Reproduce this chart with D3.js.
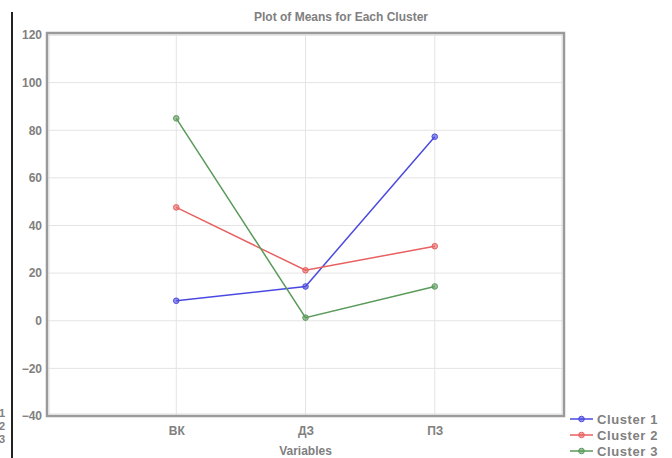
<!DOCTYPE html>
<html>
<head>
<meta charset="utf-8">
<script src="https://cdn.jsdelivr.net/npm/d3@7"></script>
<style>
body { margin: 0; background: #fff; }
text { font-family: "Liberation Sans", Arial, sans-serif; font-weight: bold; fill: #808080; }
</style>
</head>
<body>
<div id="vis"></div>
<script>
var variables = ['ВК', 'ДЗ', 'ПЗ'];
var clusterNames = ['Cluster  1', 'Cluster  2', 'Cluster  3'];
var clusterColors = ['#4a4ae0', '#e86060', '#5a9a5a'];
var cluster1 = [8.4, 14.4, 77.3];
var cluster2 = [47.6, 21.2, 31.3];
var cluster3 = [85, 1.3, 14.4];
var yTicks = [-40, -20, 0, 20, 40, 60, 80, 100, 120];

var series = [cluster1, cluster2, cluster3];

var width = 672, height = 458;
var margin = {left: 47, top: 34, right: 108, bottom: 42};

var svg = d3.select('#vis')
    .append('svg')
        .attr('width', width)
        .attr('height', height);

var x_scale = d3.scaleLinear()
    .domain([0, variables.length + 1])
    .range([margin.left, width - margin.right]);

var y_scale = d3.scaleLinear()
    .domain([-40, 120])
    .range([height - margin.bottom, margin.top + 1]);

// grid
svg.append('g')
    .selectAll('line.hg')
    .data(yTicks)
    .enter().append('line')
        .attr('x1', x_scale(0)).attr('x2', x_scale(variables.length + 1))
        .attr('y1', function(d){ return y_scale(d); })
        .attr('y2', function(d){ return y_scale(d); })
        .attr('stroke', '#e4e4e4');

svg.append('g')
    .selectAll('line.vg')
    .data(variables)
    .enter().append('line')
        .attr('x1', function(d, i){ return x_scale(i + 1); })
        .attr('x2', function(d, i){ return x_scale(i + 1); })
        .attr('y1', y_scale(120)).attr('y2', y_scale(-40))
        .attr('stroke', '#e4e4e4');

// frame
svg.append('rect')
    .attr('x', x_scale(0)).attr('y', margin.top - 1)
    .attr('width', x_scale(variables.length + 1) - x_scale(0))
    .attr('height', y_scale(-40) - margin.top + 1)
    .attr('fill', 'none')
    .attr('stroke', '#9a9a9a')
    .attr('stroke-width', 2.5);
svg.append('rect')
    .attr('x', x_scale(0) + 2).attr('y', margin.top + 1)
    .attr('width', x_scale(variables.length + 1) - x_scale(0) - 4)
    .attr('height', y_scale(-40) - margin.top - 3)
    .attr('fill', 'none')
    .attr('stroke', '#dcdcdc')
    .attr('stroke-width', 1);

// axes
var yAxis = d3.axisLeft(y_scale).tickValues(yTicks).tickSize(0).tickPadding(5);
var yg = svg.append('g')
    .attr('transform', 'translate(' + x_scale(0) + ',0)')
    .call(yAxis);
yg.select('.domain').remove();
yg.selectAll('text').style('font-size', '12px').style('font-family', '"Liberation Sans", Arial, sans-serif')
    .attr('fill', '#808080');

var xAxis = d3.axisBottom(x_scale)
    .tickValues(d3.range(1, variables.length + 1))
    .tickFormat(function(d){ return variables[d - 1]; })
    .tickSize(0).tickPadding(10);
var xg = svg.append('g')
    .attr('transform', 'translate(0,' + y_scale(-40) + ')')
    .call(xAxis);
xg.select('.domain').remove();
xg.selectAll('text').style('font-size', '12px').style('font-family', '"Liberation Sans", Arial, sans-serif')
    .attr('fill', '#808080');

// titles
svg.append('text')
    .attr('x', 341).attr('y', 21)
    .attr('text-anchor', 'middle')
    .style('font-size', '12px')
    .text('Plot of Means for Each Cluster');

svg.append('text')
    .attr('x', x_scale(2)).attr('y', 455)
    .attr('text-anchor', 'middle')
    .style('font-size', '12px')
    .text('Variables');

// lines
var line = d3.line()
    .x(function(d, i){ return x_scale(i + 1); })
    .y(function(d){ return y_scale(d); });

series.forEach(function(s, k) {
    svg.append('path')
        .datum(s)
        .attr('d', line)
        .attr('fill', 'none')
        .attr('stroke', clusterColors[k])
        .attr('stroke-width', 1.5);
    svg.selectAll('.pt' + k)
        .data(s)
        .enter().append('circle')
            .attr('class', 'pt' + k)
            .attr('cx', function(d, i){ return x_scale(i + 1); })
            .attr('cy', function(d){ return y_scale(d); })
            .attr('r', 2.8)
            .attr('fill', clusterColors[k])
            .attr('fill-opacity', 0.6)
            .attr('stroke', clusterColors[k]);
});

// legend
var legend = svg.append('g');
clusterNames.forEach(function(name, k) {
    var ly = 419 + k * 16;
    legend.append('line')
        .attr('x1', 570).attr('x2', 593)
        .attr('y1', ly).attr('y2', ly)
        .attr('stroke', clusterColors[k]).attr('stroke-width', 1.5);
    legend.append('circle')
        .attr('cx', 581.5).attr('cy', ly).attr('r', 2.8)
        .attr('fill', clusterColors[k]).attr('fill-opacity', 0.6)
        .attr('stroke', clusterColors[k]);
    legend.append('text')
        .attr('x', 597).attr('y', ly + 4.5)
        .style('font-size', '13px')
        .style('letter-spacing', '0.6px')
        .text(name);
    // clipped remnant on left edge
    legend.append('text')
        .attr('x', 5).attr('y', 417 + k * 13)
        .attr('text-anchor', 'end')
        .style('font-size', '11px')
        .text(String(k + 1));
});

// black border line at left
svg.append('line')
    .attr('x1', 12).attr('x2', 12)
    .attr('y1', 12).attr('y2', height)
    .attr('stroke', '#222').attr('stroke-width', 2);
</script>
</body>
</html>
